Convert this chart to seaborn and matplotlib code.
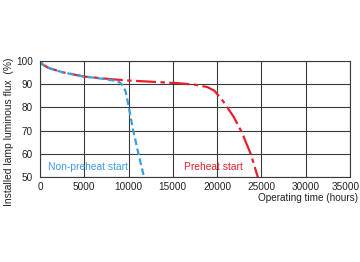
import pandas as pd
import matplotlib.pyplot as plt
import matplotlib.transforms as mtransforms
import seaborn as sns

# values
nonpreheat_hours = [0, 300, 1000, 2500, 5000, 7000, 8500, 9000, 9400, 9700, 10000, 10500, 11100, 11750]
nonpreheat_flux = [100, 98.5, 97, 95.2, 93.3, 92.4, 91.5, 90.8, 89.4, 86.5, 80.7, 70.6, 60.4, 50]
preheat_hours = [0, 300, 1000, 2500, 5000, 8000, 10000, 13000, 15800, 17500, 18900, 19700, 20700, 21900, 22800, 23800, 24600]
preheat_flux = [100, 98.5, 97, 95.2, 93.3, 92.2, 91.6, 91.0, 90.4, 89.8, 88.8, 87.2, 82.6, 75.8, 69.2, 60, 50]

x_ticks = [0, 5000, 10000, 15000, 20000, 25000, 30000, 35000]
y_ticks = [50, 60, 70, 80, 90, 100]

sns.set_style("white")
plt.rcParams["font.family"] = ["Liberation Sans", "DejaVu Sans"]

fig = plt.figure(figsize=(3.6, 2.62), dpi=100)
ax = fig.add_axes([0.111, 0.324, 0.861, 0.443])

df_n = pd.DataFrame({"hours": nonpreheat_hours, "flux": nonpreheat_flux})
df_p = pd.DataFrame({"hours": preheat_hours, "flux": preheat_flux})

sns.lineplot(data=df_p, x="hours", y="flux", ax=ax, color="#e8202a", lw=1.6,
             linestyle=(0, (9, 2, 2, 2)))
sns.lineplot(data=df_n, x="hours", y="flux", ax=ax, color="#3a9ee0", lw=1.6,
             linestyle=(0, (3, 1.6)))

ax.set_xlim(0, 35000)
ax.set_ylim(50, 100)
ax.set_xticks(x_ticks)
ax.set_yticks(y_ticks)
ax.grid(True, color="#3a3a3a", lw=0.8)
for s in ax.spines.values():
    s.set_color("#3a3a3a")
    s.set_linewidth(0.8)
ax.tick_params(axis="x", length=0, labelsize=7.2, pad=3.5, colors="#222222")
ax.tick_params(axis="y", length=0, labelsize=7.2, pad=5, colors="#222222")

# keep the last x label inside the picture
last = ax.get_xticklabels()[-1]
last.set_transform(last.get_transform() + mtransforms.ScaledTranslation(-4 / 100, 0, fig.dpi_scale_trans))

ax.set_xlabel("")
ax.set_ylabel("")
fig.text(0.024, 0.496, "Installed lamp luminous flux  (%)", rotation=90, ha="center", va="center",
         fontsize=7.4, color="#222222")
fig.text(0.995, 0.244, "Operating time (hours)", ha="right", va="center", fontsize=7.2, color="#222222")

ax.text(900, 52.3, "Non-preheat start", color="#3a9ee0", fontsize=7.4, va="bottom")
ax.text(16300, 52.3, "Preheat start", color="#e8202a", fontsize=7.4, va="bottom")

fig.savefig("out.png", dpi=100)
